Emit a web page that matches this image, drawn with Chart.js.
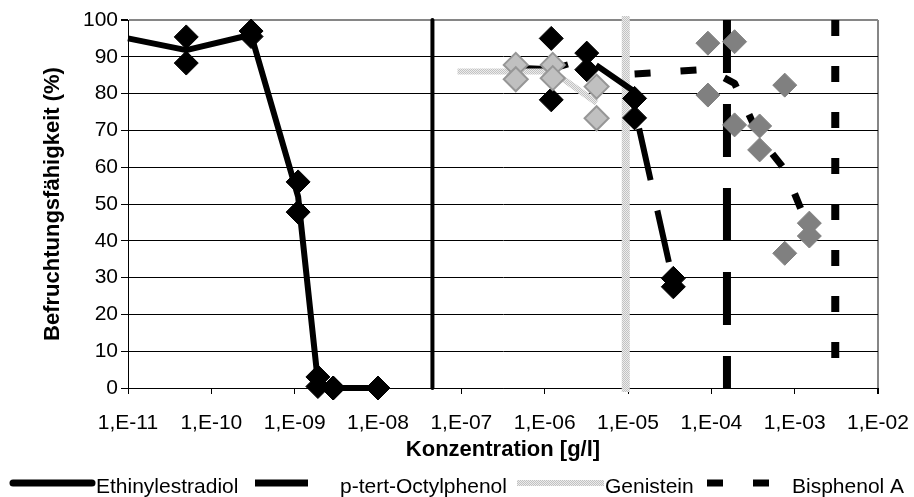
<!DOCTYPE html>
<html lang="de">
<head>
    <meta charset="UTF-8">
    <script src="https://cdn.jsdelivr.net/npm/chart.js@4.4.1/dist/chart.umd.min.js"></script>
    <style>
        html, body {
            margin: 0;
            padding: 0;
            background: #fff;
        }

        canvas {
            display: block;
        }
    </style>
    <title>Befruchtungsfähigkeit</title>
</head>
<body>
    <canvas id="chartCanvas" width="914" height="497"></canvas>

    <script>
        // x axis decades (1,E-11 ... 1,E-02)
        const decadeExponents = [-11, -10, -9, -8, -7, -6, -5, -4, -3, -2];

        const seriesNames = ['Ethinylestradiol', 'p-tert-Octylphenol', 'Genistein', 'Bisphenol A'];

        // Ethinylestradiol - single replicates and mean line
        const eeConc = [5e-11, 5e-11, 3e-10, 3e-10, 1.1e-9, 1.1e-9, 1.9e-9, 1.9e-9, 2.9e-9, 2.9e-9, 1e-8, 1e-8];
        const eeValues = [95.4, 88.3, 97, 95.5, 56, 47.8, 3, 0.4, 0, 0, 0, 0];
        const eeMeanConc = [1e-11, 5e-11, 3e-10, 1.1e-9, 1.9e-9, 2.9e-9, 1e-8];
        const eeMeanValues = [95, 91.8, 96, 52, 1.7, 0, 0];

        // p-tert-Octylphenol
        const opConc = [1.2e-6, 1.2e-6, 3.2e-6, 3.2e-6, 1.2e-5, 1.2e-5, 3.5e-5, 3.5e-5];
        const opValues = [95, 78.3, 91, 86.5, 78.7, 73.4, 29.8, 27.5];
        const opMeanConc = [4.5e-7, 1.2e-6, 3.2e-6, 1.2e-5, 1.2e-5, 3.5e-5];
        const opMeanValues = [87, 86.6, 89.5, 80.5, 76, 28.7];

        // Genistein
        const geConc = [4.5e-7, 4.5e-7, 1.25e-6, 1.25e-6, 4.2e-6, 4.2e-6];
        const geValues = [87.8, 83.9, 87.8, 84.2, 81.9, 73.3];
        const geMeanConc = [9e-8, 4.5e-7, 1.25e-6, 4.2e-6];
        const geMeanValues = [86, 86, 86, 77.5];

        // Bisphenol A
        const bpConc = [9.1e-5, 9.1e-5, 1.9e-4, 1.9e-4, 3.8e-4, 3.8e-4, 7.6e-4, 7.6e-4, 1.5e-3, 1.5e-3];
        const bpValues = [93.7, 79.6, 94.1, 71.5, 71.2, 64.7, 82.3, 36.6, 44.8, 41.3];
        const bpMeanConc = [1.2e-5, 9.1e-5, 1.9e-4, 3.8e-4, 7.6e-4, 1.5e-3];
        const bpMeanValues = [85.3, 86.6, 82.8, 68, 59.4, 43];

        // vertical reference lines (one per substance)
        const refLineConc = [4.5e-8, 1.54e-4, 9.4e-6, 3.07e-3];
        const refLineRange = [100, 0];

        const FONT = "'Liberation Sans', Arial, sans-serif";

        const canvas = document.getElementById('chartCanvas');
        const ctx = canvas.getContext('2d');

        // dotted light grey texture used by Genistein
        function makeGreyPattern() {
            const tile = document.createElement('canvas');
            tile.width = 2;
            tile.height = 2;
            const t = tile.getContext('2d');
            t.fillStyle = '#ececec';
            t.fillRect(0, 0, 2, 2);
            t.fillStyle = '#c2c2c2';
            t.fillRect(0, 0, 1, 1);
            t.fillRect(1, 1, 1, 1);
            return ctx.createPattern(tile, 'repeat');
        }
        const greyPattern = makeGreyPattern();

        function points(xs, ys) {
            return xs.map((x, i) => ({ x: x, y: ys[i] }));
        }

        function refLine(x) {
            return refLineRange.map(y => ({ x: x, y: y }));
        }

        function markers(label, xs, ys, fill, border, borderWidth, order) {
            return {
                label: label,
                data: points(xs, ys),
                showLine: false,
                pointStyle: 'rectRot',
                pointRadius: 12,
                pointBackgroundColor: fill,
                pointBorderColor: border,
                pointBorderWidth: borderWidth,
                clip: false,
                order: order
            };
        }

        function line(label, data, color, width, dash, order, cap) {
            return {
                label: label,
                data: data,
                showLine: true,
                pointRadius: 0,
                borderColor: color,
                borderWidth: width,
                borderDash: dash,
                borderCapStyle: cap || 'butt',
                borderJoinStyle: 'round',
                tension: 0,
                clip: false,
                order: order
            };
        }

        const datasets = [
            // reference lines, drawn first
            line('EE ref', refLine(refLineConc[0]), '#000', 4, [], 13),
            line('OP ref', refLine(refLineConc[1]), '#000', 8, [53, 31], 12),
            line('GE ref', refLine(refLineConc[2]), greyPattern, 8, [], 11, 'square'),
            line('BP ref', refLine(refLineConc[3]), '#000', 8, [16, 30], 10),
            // mean lines
            line(seriesNames[1], points(opMeanConc, opMeanValues), '#000', 6, [53, 31], 8),
            line(seriesNames[3], points(bpMeanConc, bpMeanValues), '#000', 7, [16, 30], 7),
            line(seriesNames[0], points(eeMeanConc, eeMeanValues), '#000', 6, [], 6),
            line(seriesNames[2], points(geMeanConc, geMeanValues), greyPattern, 6, [], 5),
            // replicate markers
            markers(seriesNames[1], opConc, opValues, '#000', '#000', 1, 4),
            markers(seriesNames[0], eeConc, eeValues, '#000', '#000', 1, 3),
            markers(seriesNames[3], bpConc, bpValues, '#808080', '#808080', 1, 2),
            markers(seriesNames[2], geConc, geValues, '#c0c0c0', '#969696', 2, 1)
        ];

        function decadeLabel(value) {
            const e = Math.round(Math.log10(value));
            const digits = String(Math.abs(e)).padStart(2, '0');
            return '1,E' + (e < 0 ? '-' : '+') + digits;
        }

        // legend row at the bottom
        const legendPlugin = {
            id: 'bottomLegend',
            afterDraw(chart) {
                const c = chart.ctx;
                const y = 483;
                c.save();
                c.lineCap = 'round';
                c.strokeStyle = '#000';
                c.lineWidth = 7;
                c.beginPath();
                c.moveTo(13, y);
                c.lineTo(92, y);
                c.stroke();

                c.lineCap = 'butt';
                c.setLineDash([53, 31]);
                c.beginPath();
                c.moveTo(255, y);
                c.lineTo(339, y);
                c.stroke();

                c.setLineDash([]);
                c.strokeStyle = greyPattern;
                c.lineWidth = 6;
                c.beginPath();
                c.moveTo(517, y);
                c.lineTo(604, y);
                c.stroke();

                c.strokeStyle = '#000';
                c.lineWidth = 7;
                c.setLineDash([16, 30]);
                c.beginPath();
                c.moveTo(707, y);
                c.lineTo(791, y);
                c.stroke();
                c.setLineDash([]);

                c.fillStyle = '#000';
                c.font = '21px ' + FONT;
                c.textBaseline = 'alphabetic';
                c.textAlign = 'left';
                c.fillText(seriesNames[0], 96, 493);
                c.fillText(seriesNames[1], 340, 493);
                c.fillText(seriesNames[2], 605, 493);
                c.fillText(seriesNames[3], 792, 493);
                c.restore();
            }
        };

        const chart = new Chart(ctx, {
            type: 'scatter',
            data: { datasets: datasets },
            options: {
                responsive: false,
                animation: false,
                events: [],
                layout: {
                    padding: { top: 20, right: 36, bottom: 34, left: 0 }
                },
                plugins: {
                    legend: { display: false },
                    tooltip: { enabled: false },
                    colors: { enabled: false }
                },
                scales: {
                    x: {
                        type: 'logarithmic',
                        min: 1e-11,
                        max: 1e-2,
                        afterBuildTicks: scale => {
                            scale.ticks = decadeExponents.map(e => ({ value: Math.pow(10, e) }));
                        },
                        afterFit: scale => {
                            scale.height = 75;
                            // keep the plot edges fixed; labels may overhang
                            scale.paddingLeft = 0;
                            scale.paddingRight = 0;
                        },
                        ticks: {
                            autoSkip: false,
                            maxRotation: 0,
                            padding: 17,
                            color: '#000',
                            font: { family: FONT, size: 21 },
                            callback: value => decadeLabel(value)
                        },
                        grid: {
                            drawOnChartArea: true,
                            color: c => (c.index === decadeExponents.length - 1 ? '#868686' : 'rgba(0,0,0,0)'),
                            lineWidth: c => (c.index === decadeExponents.length - 1 ? 2 : 1),
                            tickColor: '#000',
                            tickLength: 6
                        },
                        border: { color: '#000', width: 1 },
                        title: {
                            display: true,
                            text: 'Konzentration [g/l]',
                            color: '#000',
                            font: { family: FONT, size: 22, weight: 'bold' },
                            padding: 0
                        }
                    },
                    y: {
                        min: 0,
                        max: 100,
                        afterFit: scale => {
                            scale.width = 128;
                        },
                        ticks: {
                            stepSize: 10,
                            padding: 3,
                            color: '#000',
                            font: { family: FONT, size: 21 }
                        },
                        grid: {
                            color: c => (c.tick && c.tick.value === 100 ? '#868686' : '#000'),
                            lineWidth: c => (c.tick && c.tick.value === 100 ? 2 : 1),
                            tickColor: '#000',
                            tickLength: 7
                        },
                        border: { color: '#000', width: 1 },
                        title: {
                            display: true,
                            text: 'Befruchtungsfähigkeit (%)',
                            color: '#000',
                            font: { family: FONT, size: 22, weight: 'bold' },
                            padding: { top: 40, bottom: 0 }
                        }
                    }
                }
            },
            plugins: [legendPlugin]
        });
    </script>
</body>
</html>
